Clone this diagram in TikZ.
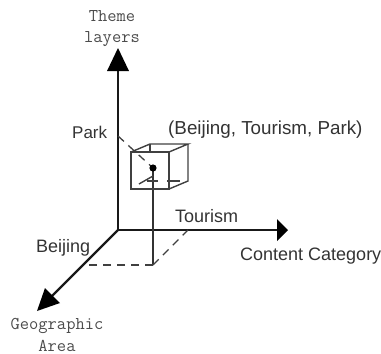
\documentclass[tikz,border=0pt]{standalone}
\usepackage{fontspec}
\setmainfont{Liberation Sans}
\usetikzlibrary{arrows.meta}
\tikzset{
  axisline/.style={line width=2.4pt,draw=black!90},
  axistip/.style={fill=black,draw=none},
  thinline/.style={line width=1.4pt,draw=black!80},
  dashline/.style={line width=1.3pt,draw=black!75,dash pattern=on 8pt off 6pt},
  cubeline/.style={line width=1.4pt,draw=black!75},
  label/.style={font=\fontsize{18}{20}\selectfont,text=black!80,inner sep=0pt,anchor=base west},
  monolabel/.style={font=\ttfamily\fontsize{18}{21.5}\selectfont,text=black!70,inner sep=0pt,align=center,anchor=center},
}
\begin{document}
\begin{tikzpicture}[x=1pt,y=-1pt]
\useasboundingbox (0,0) rectangle (381,354);
% named points
\coordinate (O) at (118,230);
\coordinate (Ytip) at (118,48);
\coordinate (Xtip) at (288,230);
\coordinate (Ztip) at (37,311);
\coordinate (Pt) at (153,168);
\coordinate (Fl) at (153,265);
\coordinate (Bj) at (85,265);
\coordinate (Tr) at (188,230);
\coordinate (Pk) at (118,136);
% cube
\coordinate (A) at (131,152);\coordinate (B) at (169,152);
\coordinate (C) at (169,189);\coordinate (D) at (131,189);
\coordinate (E) at (150,144);\coordinate (F) at (188,144);
\coordinate (G) at (188,181);
% axes
\draw[axisline] (O) -- (118,68);
\fill[axistip] (Ytip) -- (129,71) -- (107,71) -- cycle;
\draw[axisline] (O) -- (278,230);
\fill[axistip] (Xtip) -- (277,219) -- (277,241) -- cycle;
\draw[axisline] (O) -- (52,296);
\fill[axistip] (Ztip) -- (45,288) -- (60,303) -- cycle;
% projections
\draw[thinline] (Pt) -- (Fl);
\draw[dashline] (Fl) -- (Bj);
\draw[dashline] (Fl) -- (Tr);
\draw[dashline] (Pk) -- (Pt);
% cube
\draw[cubeline] (A) -- (B) -- (C) -- (D) -- cycle;
\draw[cubeline] (A) -- (E) -- (F) -- (B);
\draw[cubeline] (F) -- (G) -- (C);
\draw[cubeline] (E) -- (150,152);
\draw[cubeline] (147,181) -- (158,181);
\draw[cubeline] (167,181) -- (180,181);
\draw[cubeline] (139,184) -- (153,176);
\fill[black] (Pt) circle (3.6);
% labels
\node[monolabel] (theme) at (112,28.5) {Theme\\layers};
\node[label,font=\fontsize{17}{20}\selectfont] (park) at (72,138) {Park};
\node[label,font=\fontsize{18.8}{20}\selectfont] (tuple) at (168,134) {(Beijing, Tourism, Park)};
\node[label] (tourism) at (175,222) {Tourism};
\node[label] (beijing) at (36,252) {Beijing};
\node[label] (cat) at (240,260) {Content Category};
\node[monolabel] (geo) at (57,335) {Geographic\\Area};
\end{tikzpicture}
\end{document}
